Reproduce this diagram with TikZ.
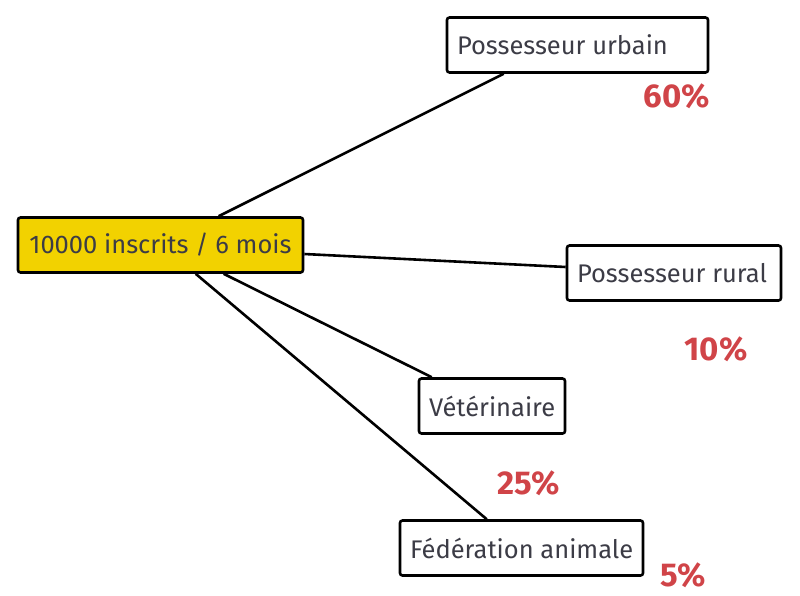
\documentclass[tikz,border=0pt]{standalone}
\usepackage{fontspec}
\setmainfont{Fira Sans}
\usetikzlibrary{backgrounds}
\definecolor{gold}{HTML}{F2D200}
\definecolor{txt}{HTML}{3C3C46}
\definecolor{pct}{HTML}{D04448}
\begin{document}
\begin{tikzpicture}[x=1pt,y=-1pt,
  box/.style={draw=black,line width=2.6pt,rounded corners=2.5pt,fill=white,text=txt,font=\fontsize{25.5}{28}\selectfont,inner xsep=10pt,inner ysep=0pt,minimum height=55pt},
  bw/.style={text width=#1-20pt,align=flush left},
  pctlab/.style={text=pct,font=\bfseries\fontsize{33}{36}\selectfont,inner sep=0pt},
  link/.style={line width=2.6pt,black}]
\useasboundingbox (0,0) rectangle (800,595);
\node[box,fill=gold,inner xsep=0pt,minimum width=285pt] (c) at (160.5,245) {10000 inscrits / 6 mois};
\node[box,bw=261pt] (u) at (577.5,45) {\mbox{Possesseur urbain}};
\node[box,bw=214pt] (r) at (674,273) {\mbox{Possesseur rural}};
\node[box,bw=146pt] (v) at (492,406) {\mbox{Vétérinaire}};
\node[box,bw=243pt] (f) at (521.5,548) {\mbox{Fédération animale}};
\node[pctlab] (p1) at (677,96) {60\%};
\node[pctlab] (p2) at (716,349) {10\%};
\node[pctlab] (p3) at (529,483) {25\%};
\node[pctlab] (p4) at (683,575) {5\%};
\begin{scope}[on background layer]
\draw[link] ([xshift=202pt]c.north west) -- ([xshift=58pt]u.south west);
\draw[link] ([yshift=-9pt]c.east) -- ([yshift=6pt]r.west);
\draw[link] ([xshift=207pt]c.south west) -- ([xshift=14pt]v.north west);
\draw[link] ([xshift=179pt]c.south west) -- ([xshift=88pt]f.north west);
\end{scope}
\end{tikzpicture}
\end{document}
